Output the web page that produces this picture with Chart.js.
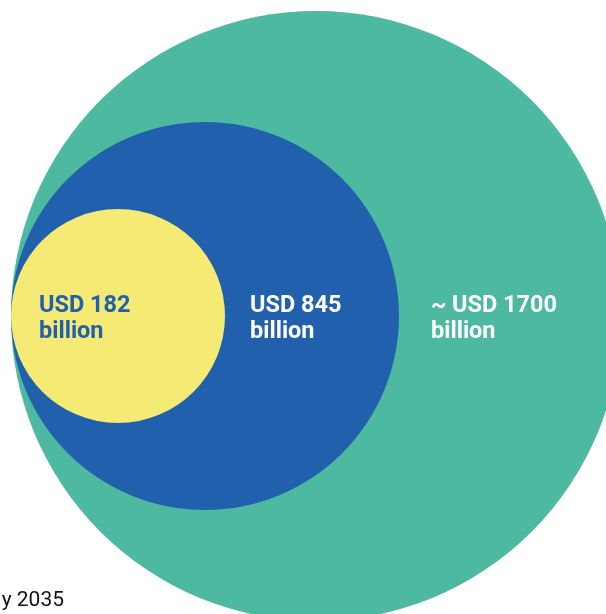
<!DOCTYPE html>
<html>
<head>
<meta charset="utf-8">
<script src="https://cdn.jsdelivr.net/npm/chart.js@4/dist/chart.umd.min.js"></script>
<style>
html,body{margin:0;padding:0;background:#fff;}
#wrap{position:relative;width:606px;height:614px;overflow:hidden;}
canvas{display:block;}
</style>
</head>
<body>
<div id="wrap"><canvas id="c" width="606" height="614"></canvas></div>
<script>
// ---- data ----
const categories = ["USD 182", "USD 845", "~ USD 1700"];
const values = [182, 845, 1700];               // USD billion
const unitLabel = "billion";
const circleSize = [107, 194, 305];             // bubble radius
const footnote = "y 2035";

// ---- styles ----
const fillColors = ["#F4EA74", "#2160AC", "#4CB9A0"];
const textColors = ["#2160AC", "#FFFFFF", "#FFFFFF"];

// layout constants (axis units)
const tangentX = 11;     // all circles touch at the left
const centreY = 316;
const labelX = [39, 250, 431];
const labelY = 312;
const lineGap = 26;

const datasets = categories.map((c, i) => ({
  label: c,
  data: [{x: tangentX + circleSize[i], y: centreY, r: circleSize[i]}],
  backgroundColor: fillColors[i],
  borderWidth: 0,
  hoverBorderWidth: 0,
  hoverRadius: 0,
  clip: false
}));

const labelPlugin = {
  id: 'circleLabels',
  afterDatasetsDraw(chart) {
    const {ctx, scales: {x, y}} = chart;
    ctx.save();
    ctx.font = "bold 23.5px Roboto";
    ctx.textAlign = "left";
    ctx.textBaseline = "alphabetic";
    categories.forEach((c, i) => {
      ctx.fillStyle = textColors[i];
      const px = x.getPixelForValue(labelX[i]);
      const py = y.getPixelForValue(labelY);
      ctx.fillText(c, px, py);
      ctx.fillText(unitLabel, px, py + lineGap);
    });
    ctx.font = "21px Roboto";
    ctx.fillStyle = "#111111";
    ctx.textAlign = "right";
    ctx.fillText(footnote, x.getPixelForValue(64), y.getPixelForValue(606));
    ctx.restore();
  }
};

new Chart(document.getElementById('c'), {
  type: 'bubble',
  data: { datasets },
  options: {
    responsive: false,
    animation: false,
    events: [],
    layout: { padding: 0, autoPadding: false },
    plugins: { legend: { display: false }, tooltip: { enabled: false } },
    scales: {
      x: { type: 'linear', min: 0, max: 606, display: false },
      y: { type: 'linear', min: 0, max: 614, reverse: true, display: false }
    }
  },
  plugins: [labelPlugin]
});
</script>
</body>
</html>
